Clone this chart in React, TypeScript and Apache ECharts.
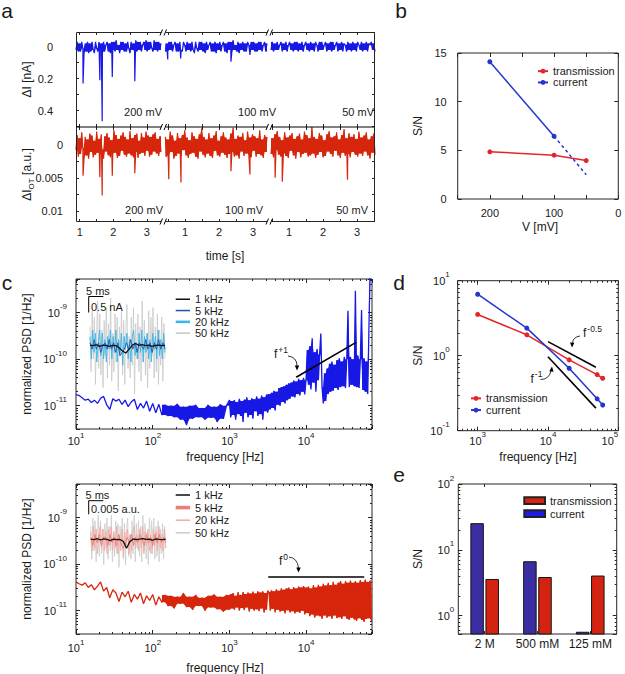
import React, { useEffect, useRef } from 'react';
import * as echarts from 'echarts';

const FONT = '"Liberation Sans", Arial, Helvetica, sans-serif';
const INK = '#1a1a1a';
const FRAME = '#262626';
const BLUE_TRACE = '#1818e6';
const RED_TRACE = '#d6260c';
const RED_PT = '#e3262b';
const BLUE_PT = '#2335cf';

// ================= panel a : time traces =================
const segAxisRanges = [[0.89, 3.48], [0.35, 3.47], [0.41, 3.53]];
const segTraceRanges = [[0.89, 3.42], [0.42, 3.41], [0.47, 3.53]];
const segTicks = [[1, 1.5, 2, 2.5, 3], [0.5, 1, 1.5, 2, 2.5, 3], [0.5, 1, 1.5, 2, 2.5, 3, 3.5]];
const segTickLabels = [1, 2, 3];
const voltLabels = ['200 mV', '100 mV', '50 mV'];
const currentRange = [-0.092, 0.502];
const currentTicks = [0, 0.1, 0.2, 0.3, 0.4, 0.5];
const currentTickLabels = [0, 0.2, 0.4];
const transRange = [-0.0027, 0.0117];
const transTicks = [0, 0.0025, 0.005, 0.0075, 0.01];
const transTickLabels = [0, 0.005, 0.01];

// current noise, units of 0.01 nA (positive = downward deflection)
const currentNoise1 = [2,-3,3,-2,3,-3,1,4,-2,3,-3,4,-2,3,-3,2,4,-3,1,3,-3,2,-2,4,-3,3,-1,-3,3,-2,4,-3,2,-3,3,-4,2,-1,4,-3,2,-3,3,-2,3,-3,1,4,-3,2,-2,3,-4,3,-3,2,-3,3,-1,-3,2,-4,3,-3,2,-3,1,3,-4,2,-3,3,-3,2,-2];
const currentNoise2 = [3,-2,3,-3,2,-3,3,-1,-3,3,-2,3,-3,2,3,-3,-1,3,-3,2,-2,3,-3,2,4,-3,1,3,-3,2,-3,3,-2,4,-3,2,-1,-3,3,-2,3,-3,4,-2,2,-3,3,-1,-3,3,-2,4,-3,2,-3,3,-4,2,-1,3,-3,4,-2,2,-3,3,-2,3,-3,-1,4,-3,2,-3,3,-2,3,-3,2,-3,3,-1,-3,3,-2];
const currentNoise3 = [2,-3,3,-2,2,-3,2,-1,-3,3,-2,2,-3,3,-1,-3,2,-2,3,-3,2,-3,3,-2,2,-3,3,-1,-3,2,-2,3,-3,2,-2,3,-3,-1,3,-3,2,-3,2,-1,-3,3,-2,2,-3,3,-3,2,-1,-3,3,-2,2,-3,3,-2,-1,3,-3,2,-2,3,-3,2,-2,3,-3,-1,2,-3,3,-2,2,-3,3,-2,-1,-3,2,-2,3];
const currentSpikeTimes = [[1.10, 1.60, 1.67, 1.97, 2.64], [0.49, 0.87, 2.35, 2.91], []];
const currentSpikeDepths = [[0.23, 0.21, 0.466, 0.19, 0.216], [0.08, 0.073, 0.094, 0.052], []];

// transmission noise, units of 1e-4 a.u.
const transNoise1 = [8,-15,18,-10,14,-19,5,20,-12,16,-8,21,-17,11,-14,19,-6,15,-20,12,-9,18,-16,7,21,-13,10,-18,16,-11,19,-7,14,-22,12,-15,20,-9,17,-14,9,-19,15,-12,18,-8,13,-21,16,-10,19,-15,11,-17,20,-6,14,-18,12,-11,17,-20,9,-14,18,-12,15,-16,10,-19,13,-9,17,-13,11];
const transNoise2 = [-12,18,-8,15,-20,11,-14,21,-6,17,-18,13,-10,19,-15,8,-22,16,-11,20,-7,14,-19,12,-13,18,-9,21,-16,10,-25,15,-12,19,-8,13,-18,17,-10,20,-14,9,-21,16,-6,18,-13,12,-19,15,-11,20,-8,14,-17,11,-26,18,-9,16,-14,21,-12,10,-18,17,-7,13,-20,15,-11,19,-16,9,-13,18,-10,14,-22,16,-8,20,-15,11,-12];
const transNoise3 = [14,-10,19,-16,8,-21,15,-12,18,-7,13,-19,17,-11,20,-14,9,-18,16,-9,21,-13,11,-17,19,-8,14,-20,12,-15,18,-10,16,-27,13,-12,20,-9,15,-18,11,-14,19,-7,17,-16,10,-21,14,-11,18,-13,9,-19,16,-8,20,-15,12,-24,17,-10,14,-18,19,-12,11,-16,15,-9,18,-20,13,-11,17,-14,10,-19,16,-8,21,-13,12,-17,15];
const transSpikeTimes = [[1.10, 1.60, 1.67, 1.97, 2.64], [0.52, 0.88, 2.35, 2.91], [0.59, 0.80, 2.72]];
const transSpikeDepths = [[0.0047, 0.0049, 0.0077, 0.0047, 0.0043], [0.0052, 0.0057, 0.004, 0.0045], [0.005, 0.0056, 0.0053]];

// ================= panel b =================
const voltages = [200, 100, 50];
const snTransV = [4.85, 4.5, 3.95];
const snCurrentV = [14.1, 6.45];
const snCurrentExtrapV = [6.45, 2.5];

// ================= panel c : PSDs (log10 of PSD in 1/Hz) =================
const psdCurrentLow = [-10.76,-10.78,-10.83,-10.88,-10.86,-10.93,-10.88,-10.95,-10.84,-10.8,-10.98,-11.08,-10.85,-10.9,-10.86,-10.97,-10.88,-11.02,-10.92,-10.86,-11.08,-10.95,-11.05,-10.9,-11.12,-10.95,-11.15,-10.97,-11.2,-10.98,-11.22,-11.0,-11.25,-10.96,-11.3,-11.02,-11.42,-11.0,-11.28,-10.98,-11.25,-11.05,-11.3,-10.98,-11.26,-11.02,-11.35,-10.97,-11.28,-11.0];
const psdCurrentHigh = [-10.88,-11.25,-10.9,-11.2,-10.88,-11.3,-10.92,-11.18,-10.85,-11.22,-10.9,-11.35,-10.87,-11.15,-10.82,-11.25,-10.88,-11.2,-10.84,-11.28,-10.86,-11.12,-10.8,-11.22,-10.85,-11.18,-10.78,-11.3,-10.82,-11.12,-10.76,-11.15,
  -10.75,-11.08,-10.72,-11.05,-10.68,-11.1,-10.7,-10.98,-10.62,-11.0,-10.6,-10.92,-10.58,-10.95,-10.55,-10.88,
  -10.52,-10.85,-10.5,-10.8,-10.46,-10.82,-10.48,-10.75,-10.42,-10.78,-10.45,-10.7,-10.4,-10.76,-10.45,
  -9.8,-10.55,-9.72,-10.65,-9.55,-10.5,-9.85,-10.7,-9.78,-10.45,-9.9,-9.45,
  -10.6,-10.95,-10.3,-10.9,-10.2,
  -10.75,-10.1,-10.7,-10.05,-10.68,-10.12,-10.62,-10.02,-10.66,-9.98,-10.6,-10.05,-10.58,-9.95,-10.62,
  -10.0,-8.96,-10.6,-9.95,-10.55,-10.0,-10.58,-8.53,-10.6,-9.92,-10.62,-10.0,-8.94,-10.66,-9.98,-10.7,-10.05,-10.75,-9.3,-8.0,-7.9];
const psdTransLow = [-10.38,-10.42,-10.45,-10.4,-10.5,-10.44,-10.55,-10.47,-10.38,-10.58,-10.5,-10.72,-10.55,-10.62,-10.8,-10.6,-10.7,-10.58,-10.82,-10.65,-10.75,-10.62,-10.85,-10.68,-10.78,-10.65,-10.88,-10.7,-10.82,-10.66,-10.9,-10.68,-10.95,-10.7,-10.85,-10.62,-10.92,-10.7,-10.98,-10.66,-10.9,-10.72,-11.0,-10.68,-10.93,-10.65,-10.97,-10.7,-11.02,-10.66];
const psdTransHigh = [-10.98,-10.64,-10.95,-10.62,-10.98,-10.68,-10.93,-10.6,-11.0,-10.66,-10.94,-10.6,-10.99,-10.64,-10.93,-10.61,-11.02,-10.63,-10.96,-10.59,-11.0,-10.63,-10.97,-10.58,-11.01,-10.61,-10.95,-10.58,-11.04,-10.62,-10.98,-10.57,
  -10.6,-11.0,-10.56,-10.96,-10.58,-11.04,-10.54,-10.98,-10.57,-11.02,-10.52,-11.0,-10.55,-11.06,-10.52,-10.99,-10.5,-11.04,-10.54,-11.01,-10.49,-11.06,-10.52,-11.02,-10.48,-11.05,-10.5,-11.0,-10.47,-11.08,-10.5,
  -11.05,-10.48,-11.12,-10.52,-11.08,-10.45,-11.15,-10.5,-11.1,-10.44,-11.12,-10.48,-11.18,-10.42,-11.1,-10.46,-11.15,-10.4,-11.12,-10.45,-11.18,-10.38,-11.1,-10.44,-11.16,-10.4,-11.14,-10.36,-11.18,-10.42,-11.12,-10.36,-11.17,-10.4,-11.2,-10.35,-11.15,-10.4,-11.19,-10.36,-11.22,-10.4,-11.16,-10.34,-11.2,-10.38,-11.24,-10.33,-11.18,-10.38,-11.16,-10.35,-11.22];
const guidePlusOneF = [7400, 44700];
const guidePlusOnePsd = [4.1e-11, 2.3e-10];
const guideZeroF = [3200, 57000];
const guideZeroPsd = [5.3e-11, 5.3e-11];

// insets: 23 ms windows. current in 0.1 nA, transmission in 0.001 a.u.
const insetCur50 = [6,-8,11,-4,9,-12,3,14,-7,10,-9,5,-13,8,-3,12,-10,7,-6,15,-11,4,-8,10,-5,9,-14,6,-2,11,-9,8,-12,5,13,-7,3,-10,9,-6,12,-15,7,-4,10,-8,6,-11,14,-5,8,-9,4,-13,11,-7,9,-3,12,-10,6,-8,10,-12,5,-6,9,-11,7,-4];
const insetCur20 = [3,-4,5,-2,4,-5,1,5,-3,4,-4,2,-5,3,-1,5,-4,3,-2,5,-5,2,-3,4,-6,3,-1,4,-4,2,-5,3,5,-3,1,-4,4,-2,5,-5,3,-2,4,-4,2,-5,4,-1,3,-4,5,-3,2,-4,4,-2];
const insetCur5 = [1,-1,2,-1,1,-2,0,1,-1,2,-1,1,-2,1,-3,-2,-1,1,-1,2,-1,1,-2,1,0,-1,2,-1,1,-2,1,-1,2,-1,1,-1];
const insetCur1 = [0.3,0.1,0.4,-0.1,0.3,0.2,-0.1,0.2,0.1,-0.6,-1.6,-2.2,-1.0,0.3,0.8,0.2,0.4,0.1,0.3,-0.1,0.2,0.3,0.1,0.2];
const insetTr50 = [5,-7,8,-4,7,-8,3,9,-6,7,-5,4,-9,6,-3,8,-7,5,-4,9,-8,3,-6,7,-5,6,-10,5,-2,8,-7,6,-9,4,8,-6,2,-7,7,-5,9,-8,6,-3,7,-6,5,-8,9,-4,6,-7,3,-9,8,-5,7,-3,8,-7,5,-6,7,-8,4,-5,6,-7,5,-3];
const insetTr20 = [3,-4,5,-3,4,-5,2,5,-3,4,-4,3,-5,4,-2,5,-4,3,-3,5,-5,2,-4,4,-6,3,-2,4,-5,2,-4,3,5,-3,2,-4,4,-3,5,-5,3,-2,4,-4,2,-5,4,-2,3,-4,5,-3,2,-4,4,-3];
const insetTr5 = [1,-2,2,-1,2,-2,1,1,-2,2,-1,1,-2,2,-1,-3,-2,1,-1,2,-2,1,-1,2,0,-2,2,-1,1,-2,2,-1,2,-1,1,-1];
const insetTr1 = [0.3,0.1,0.5,0,0.4,0.2,-0.2,0.3,0.1,0.2,-0.5,-3,-0.6,0.4,0.1,0.3,0.5,0.2,0.3,-0.1,0.4,0.2,0.1,0.3];
const insetWindowMs = 23;

// ================= panel d =================
const bwFreqs = [1000, 5000, 20000, 50000, 60000];
const snTransF = [3.55, 1.9, 0.88, 0.56, 0.5];
const snCurrentF = [6.6, 2.33, 0.68, 0.266, 0.22];
const guideHalfF = [10000, 48000];
const guideHalfV = [1.54, 0.70];
const guideOneF = [10000, 48000];
const guideOneV = [0.97, 0.2];

// ================= panel e =================
const saltCats = ['2 M', '500 mM', '125 mM'];
const snCurrentSalt = [25, 6.6, 0.56];
const snTransSalt = [3.55, 3.8, 4.0];
const E_MIN = 0.527;

const legendText: Record<string, string> = {
  c1: '1 kHz', c5: '5 kHz', c20: '20 kHz', c50: '50 kHz',
  r1: '1 kHz', r5: '5 kHz', r20: '20 kHz', r50: '50 kHz',
  eT: 'transmission', eC: 'current',
};
const LINE_ICON_THIN = 'path://M0 0H28V3H0Z';
const LINE_ICON_MID = 'path://M0 0H28V5H0Z';
const LINE_ICON_THICK = 'path://M0 0H28V7H0Z';

// ---------------- helpers ----------------
function noisePoints(noise: number[], unit: number, range: number[]) {
  const n = noise.length;
  return noise.map((v, i) => [range[0] + (range[1] - range[0]) * i / (n - 1), v * unit]);
}
function trace(noise: number[], unit: number, range: number[], spikeT: number[], spikeV: number[]) {
  const pts = noisePoints(noise, unit, range);
  spikeT.forEach((t, k) => pts.push([t, spikeV[k]]));
  pts.sort((a, b) => a[0] - b[0]);
  return pts;
}
function psdData(low: number[], high: number[]) {
  const pts: number[][] = [];
  low.forEach((v, i) => pts.push([Math.pow(10, 1 + 1.96 * i / (low.length - 1)), Math.pow(10, v + 12)]));
  high.forEach((v, j) => pts.push([Math.pow(10, 3 + 1.85 * j / (high.length - 1)), Math.pow(10, v + 12)]));
  return pts;
}
// inner band swept by the samples: at each sample the lower of the two neighbouring
// pair-maxima and the higher of the two neighbouring pair-minima
function envelope(pts: number[][], cap = Infinity) {
  const n = pts.length;
  const pm: number[] = [], pn: number[] = [];
  for (let k = 0; k < n - 1; k++) {
    pm.push(Math.max(pts[k][1], pts[k + 1][1]));
    pn.push(Math.min(pts[k][1], pts[k + 1][1]));
  }
  const xs: number[] = [], lo: number[] = [], hi: number[] = [];
  for (let j = 0; j < n; j++) {
    const a = j > 0 ? j - 1 : 0;
    const b = j < n - 1 ? j : n - 2;
    xs.push(pts[j][0]);
    hi.push(Math.min(cap, Math.min(pm[a], pm[b])));
    lo.push(Math.max(pn[a], pn[b]));
  }
  return { xs, lo, hi };
}
function bandSeries(env: any, color: string, xAxisIndex: number, yAxisIndex: number) {
  return {
    type: 'custom', xAxisIndex, yAxisIndex, silent: true, clip: true,
    data: [[env.xs[0], env.lo[0]]],
    renderItem: (params: any, api: any) => {
      const points: number[][] = [];
      for (let i = 0; i < env.xs.length; i++) points.push(api.coord([env.xs[i], env.hi[i]]));
      for (let i = env.xs.length - 1; i >= 0; i--) points.push(api.coord([env.xs[i], env.lo[i]]));
      return { type: 'polygon', shape: { points }, style: { fill: color, stroke: 'none' } };
    },
  };
}
function insetData(vals: number[]) {
  return vals.map((v, i) => [insetWindowMs * i / (vals.length - 1), v]);
}
function minorLog(min: number, max: number) {
  const out: number[] = [];
  for (let n = Math.floor(Math.log10(min)) - 1; n <= Math.ceil(Math.log10(max)); n++) {
    for (let k = 2; k <= 9; k++) {
      const v = Number((k * Math.pow(10, n)).toPrecision(6));
      if (v > min * 1.0001 && v < max * 0.9999) out.push(v);
    }
  }
  return out;
}

const tickLine = { color: FRAME, width: 1 };

function vAxis(grid: number, position: string, min: number, max: number, o: any = {}) {
  return {
    type: 'value', gridIndex: grid, position, min, max, inverse: !!o.inverse, show: o.show !== false,
    axisLine: { show: false, onZero: false },
    splitLine: { show: false }, minorTick: { show: false }, minorSplitLine: { show: false },
    axisTick: o.ticks ? { show: true, inside: true, length: o.tickLen || 4, lineStyle: tickLine, customValues: o.ticks } : { show: false },
    axisLabel: o.labels ? { show: true, customValues: o.labels, formatter: o.formatter, margin: o.margin, color: INK, fontSize: 11, fontFamily: FONT } : { show: false },
  };
}

const powRich = {
  b: { fontSize: 11, lineHeight: 20, verticalAlign: 'middle', fontFamily: FONT, color: INK },
  s: { fontSize: 8, lineHeight: 8, verticalAlign: 'top', fontFamily: FONT, color: INK },
};
function powLabel(offset: number) {
  return (v: number) => {
    const e = Math.log10(v);
    const r = Math.round(e);
    if (Math.abs(e - r) > 1e-6) return '';
    return `{b|10}{s|${r + offset}}`;
  };
}
function lAxis(grid: number, position: string, min: number, max: number, o: any = {}) {
  return {
    type: 'log', logBase: 10, gridIndex: grid, position, min, max,
    axisLine: { show: false, onZero: false }, splitLine: { show: false }, minorTick: { show: false },
    axisTick: { show: true, inside: true, length: 4, lineStyle: tickLine },
    axisLabel: o.labels ? { show: true, formatter: powLabel(o.offset || 0), margin: o.margin, color: INK, fontSize: 11, fontFamily: FONT, rich: powRich, alignMaxLabel: o.alignMax } : { show: false },
  };
}
function minorAxis(grid: number, position: string, min: number, max: number) {
  return vAxis(grid, position, Math.log10(min), Math.log10(max), { ticks: minorLog(min, max).map((v) => Math.log10(v)), tickLen: 2 });
}

function buildOption() {
  const grid: any[] = [];
  const xAxis: any[] = [];
  const yAxis: any[] = [];
  const series: any[] = [];
  const addGrid = (left: number, top: number, width: number, height: number, show: boolean) => {
    grid.push({ left, top, width, height, show, borderColor: FRAME, borderWidth: 1, backgroundColor: 'transparent', containLabel: false, outerBoundsMode: 'none' });
    return grid.length - 1;
  };
  const addX = (o: any) => { xAxis.push(o); return xAxis.length - 1; };
  const addY = (o: any) => { yAxis.push(o); return yAxis.length - 1; };

  // ---------- panel a ----------
  const segX = [[76, 87], [163, 106], [269, 106]];
  const rows = [[32, 95], [127, 95]];
  const curNoise = [currentNoise1, currentNoise2, currentNoise3];
  const trNoise = [transNoise1, transNoise2, transNoise3];
  for (let r = 0; r < 2; r++) {
    for (let s = 0; s < 3; s++) {
      const g = addGrid(segX[s][0], rows[r][0], segX[s][1], rows[r][1], false);
      const [xmin, xmax] = segAxisRanges[s];
      const xi = addX(vAxis(g, 'bottom', xmin, xmax, {
        ticks: segTicks[s], labels: r === 1 ? segTickLabels : undefined, margin: 4, tickLen: 3,
        formatter: (v: number) => String(v),
      }));
      addX(vAxis(g, 'top', xmin, xmax, { ticks: segTicks[s], tickLen: 3 }));
      const yr = r === 0 ? currentRange : transRange;
      const yt = r === 0 ? currentTicks : transTicks;
      const yl = r === 0 ? currentTickLabels : transTickLabels;
      const yi = addY(vAxis(g, 'left', yr[0], yr[1], s === 0 ? {
        inverse: true, ticks: yt, labels: yl, margin: r === 0 ? 23 : 13, tickLen: 3,
        formatter: (v: number) => (Math.abs(v) < 1e-12 ? '0' : String(Number(v.toPrecision(3)))),
      } : { inverse: true, show: false }));
      if (s === 2) addY(vAxis(g, 'right', yr[0], yr[1], { inverse: true, ticks: yt, tickLen: 3 }));
      const color = r === 0 ? BLUE_TRACE : RED_TRACE;
      const noise = r === 0 ? curNoise[s] : trNoise[s];
      const unit = r === 0 ? 0.01 : 0.0001;
      const data = r === 0
        ? trace(noise, unit, segTraceRanges[s], currentSpikeTimes[s], currentSpikeDepths[s])
        : trace(noise, unit, segTraceRanges[s], transSpikeTimes[s], transSpikeDepths[s]);
      series.push(bandSeries(envelope(noisePoints(noise, unit, segTraceRanges[s])), color, xi, yi));
      series.push({
        type: 'line', name: `a${r}${s}`, xAxisIndex: xi, yAxisIndex: yi, data, symbol: 'none', silent: true,
        lineStyle: { color, width: 1.2 },
      });
    }
  }

  // ---------- panel b ----------
  {
    const g = addGrid(457.7, 53, 160.6, 146, true);
    const bt = [0, 50, 100, 150, 200, 250];
    const xi = addX(vAxis(g, 'bottom', 0, 250, { inverse: true, ticks: bt, labels: [0, 100, 200], margin: 8 }));
    addX(vAxis(g, 'top', 0, 250, { inverse: true, ticks: bt }));
    const yi = addY(vAxis(g, 'left', 0, 15, { ticks: [0, 5, 10, 15], labels: [0, 5, 10, 15], margin: 11 }));
    addY(vAxis(g, 'right', 0, 15, { ticks: [0, 5, 10, 15] }));
    series.push({
      type: 'line', name: 'transmission', xAxisIndex: xi, yAxisIndex: yi, symbol: 'circle', symbolSize: 5,
      data: voltages.map((v, i) => [v, snTransV[i]]),
      lineStyle: { color: RED_PT, width: 1.5 }, itemStyle: { color: RED_PT },
    });
    series.push({
      type: 'line', name: 'current', xAxisIndex: xi, yAxisIndex: yi, symbol: 'circle', symbolSize: 5,
      data: snCurrentV.map((v, i) => [voltages[i], v]),
      lineStyle: { color: BLUE_PT, width: 1.5 }, itemStyle: { color: BLUE_PT },
    });
    series.push({
      type: 'line', name: 'current extrapolated', xAxisIndex: xi, yAxisIndex: yi, symbol: 'none',
      data: snCurrentExtrapV.map((v, i) => [voltages[i + 1], v]),
      lineStyle: { color: BLUE_PT, width: 1.5, type: [3, 3] },
    });
  }

  // ---------- log boxes helper ----------
  const logBox = (g: number, xr: number[], yr: number[], xm: number, ym: number, yOffset: number, alignMax?: string) => {
    const xi = addX(lAxis(g, 'bottom', xr[0], xr[1], { labels: true, margin: xm, alignMax }));
    addX(lAxis(g, 'top', xr[0], xr[1]));
    addX(minorAxis(g, 'bottom', xr[0], xr[1]));
    addX(minorAxis(g, 'top', xr[0], xr[1]));
    const yi = addY(lAxis(g, 'left', yr[0], yr[1], { labels: true, margin: ym, offset: yOffset }));
    addY(lAxis(g, 'right', yr[0], yr[1]));
    addY(minorAxis(g, 'left', yr[0], yr[1]));
    addY(minorAxis(g, 'right', yr[0], yr[1]));
    return [xi, yi];
  };
  // PSD y axis in units of 1e-12 1/Hz, labelled in 1/Hz
  const psdX = [10, 72000];
  const psdY = [3.16, 5300];
  const BAND_FROM = 28; // the PSD turns into a dense band above ~130 Hz

  // ---------- panel c (current) ----------
  {
    const g = addGrid(76, 279, 296, 150, true);
    const [xi, yi] = logBox(g, psdX, psdY, 2, 9, -12);
    const pts = psdData(psdCurrentLow, psdCurrentHigh);
    series.push(bandSeries(envelope(pts.slice(BAND_FROM), psdY[1]), BLUE_TRACE, xi, yi));
    series.push({ type: 'line', name: 'psdCurrent', xAxisIndex: xi, yAxisIndex: yi, symbol: 'none', silent: true,
      data: pts, lineStyle: { color: BLUE_TRACE, width: 1.3 } });
    series.push({ type: 'line', name: 'guide+1', xAxisIndex: xi, yAxisIndex: yi, symbol: 'none', silent: true,
      data: guidePlusOneF.map((f, i) => [f, guidePlusOnePsd[i] * 1e12]), lineStyle: { color: '#000', width: 1.6 } });
    const gi = addGrid(90, 294, 75, 104, false);
    const ix = addX(vAxis(gi, 'bottom', 0, insetWindowMs, { show: false }));
    const iy = addY(vAxis(gi, 'left', -16.25, 16.25, { show: false }));
    const ins = [['c50', insetCur50, '#c9c9c9', 0.8], ['c20', insetCur20, '#3db5e8', 0.9], ['c5', insetCur5, '#1f55aa', 0.9], ['c1', insetCur1, '#111111', 1.3]];
    ins.forEach(([name, vals, color, w]: any) => series.push({ type: 'line', name, xAxisIndex: ix, yAxisIndex: iy, symbol: 'none', silent: true,
      data: insetData(vals), lineStyle: { color, width: w }, itemStyle: { color } }));
  }

  // ---------- panel c (transmission) ----------
  {
    const g = addGrid(76, 484, 296, 150, true);
    const [xi, yi] = logBox(g, psdX, psdY, 4, 9, -12);
    const pts = psdData(psdTransLow, psdTransHigh);
    series.push(bandSeries(envelope(pts.slice(BAND_FROM), psdY[1]), RED_TRACE, xi, yi));
    series.push({ type: 'line', name: 'psdTrans', xAxisIndex: xi, yAxisIndex: yi, symbol: 'none', silent: true,
      data: pts, lineStyle: { color: RED_TRACE, width: 1.3 } });
    series.push({ type: 'line', name: 'guide0', xAxisIndex: xi, yAxisIndex: yi, symbol: 'none', silent: true,
      data: guideZeroF.map((f, i) => [f, guideZeroPsd[i] * 1e12]), lineStyle: { color: '#000', width: 1.6 } });
    const gi = addGrid(90.7, 488, 75, 104, false);
    const ix = addX(vAxis(gi, 'bottom', 0, insetWindowMs, { show: false }));
    const iy = addY(vAxis(gi, 'left', -19, 19, { show: false }));
    const ins = [['r50', insetTr50, '#cccccc', 0.8], ['r20', insetTr20, '#f5aaa3', 0.9], ['r5', insetTr5, '#ee7d73', 0.9], ['r1', insetTr1, '#111111', 1.3]];
    ins.forEach(([name, vals, color, w]: any) => series.push({ type: 'line', name, xAxisIndex: ix, yAxisIndex: iy, symbol: 'none', silent: true,
      data: insetData(vals), lineStyle: { color, width: w }, itemStyle: { color } }));
  }

  // ---------- panel d ----------
  {
    const g = addGrid(457.7, 280.7, 160.6, 150, true);
    const [xi, yi] = logBox(g, [520, 100000], [0.1, 10], 0, 8, 0, 'right');
    series.push({ type: 'line', name: 'guideHalf', xAxisIndex: xi, yAxisIndex: yi, symbol: 'none', silent: true,
      data: guideHalfF.map((f, i) => [f, guideHalfV[i]]), lineStyle: { color: '#000', width: 1.6 } });
    series.push({ type: 'line', name: 'guideOne', xAxisIndex: xi, yAxisIndex: yi, symbol: 'none', silent: true,
      data: guideOneF.map((f, i) => [f, guideOneV[i]]), lineStyle: { color: '#000', width: 1.6 } });
    series.push({ type: 'line', name: 'transmission', xAxisIndex: xi, yAxisIndex: yi, symbol: 'circle', symbolSize: 5,
      data: bwFreqs.map((f, i) => [f, snTransF[i]]), lineStyle: { color: RED_PT, width: 1.5 }, itemStyle: { color: RED_PT } });
    series.push({ type: 'line', name: 'current', xAxisIndex: xi, yAxisIndex: yi, symbol: 'circle', symbolSize: 5,
      data: bwFreqs.map((f, i) => [f, snCurrentF[i]]), lineStyle: { color: BLUE_PT, width: 1.5 }, itemStyle: { color: BLUE_PT } });
  }

  // ---------- panel e ----------
  {
    const g = addGrid(458.3, 484, 158.4, 150, true);
    const catAxis = (pos: string, labels: boolean) => ({
      type: 'category', gridIndex: g, position: pos, data: saltCats, boundaryGap: true,
      axisLine: { show: false, onZero: false }, splitLine: { show: false },
      axisTick: { show: true, inside: true, length: 3, alignWithLabel: true, lineStyle: tickLine },
      axisLabel: labels ? { show: true, interval: 0, hideOverlap: false, margin: 4, fontSize: 12, color: INK, fontFamily: FONT } : { show: false },
    });
    const xi = addX(catAxis('bottom', true));
    addX(catAxis('top', false));
    const yi = addY(lAxis(g, 'left', E_MIN, 100, { labels: true, margin: 4 }));
    addY(lAxis(g, 'right', E_MIN, 100));
    addY(minorAxis(g, 'left', E_MIN, 100));
    addY(minorAxis(g, 'right', E_MIN, 100));
    const barSeries = (name: string, vals: number[], color: string, offset: number) => ({
      type: 'custom', name, xAxisIndex: xi, yAxisIndex: yi,
      data: vals.map((v, i) => [i, v]),
      itemStyle: { color, borderColor: '#222', borderWidth: 1 },
      renderItem: (params: any, api: any) => {
        const top = api.coord([api.value(0), api.value(1)]);
        const base = api.coord([api.value(0), E_MIN]);
        const w = 12.5;
        return {
          type: 'rect',
          shape: { x: top[0] + offset - w / 2, y: top[1], width: w, height: Math.max(0.5, base[1] - top[1]) },
          style: { fill: color, stroke: '#151515', lineWidth: 1 },
        };
      },
    });
    series.push(barSeries('eC', snCurrentSalt, '#3b2ea3', -7.6));
    series.push(barSeries('eT', snTransSalt, '#d42310', 7.5));
  }

  const legendBase = { orient: 'vertical', padding: 0, itemGap: 0, selectedMode: false };
  const legend = [
    { ...legendBase, left: 537, top: 65.5, itemWidth: 10, itemHeight: 6, data: ['transmission', 'current'],
      textStyle: { color: INK, fontSize: 11, fontFamily: FONT, lineHeight: 11.3 } },
    { ...legendBase, left: 470, top: 392.5, itemWidth: 10, itemHeight: 6, data: ['transmission', 'current'],
      textStyle: { color: INK, fontSize: 11, fontFamily: FONT, lineHeight: 11.7 } },
    { ...legendBase, left: 175.7, top: 293.6, itemWidth: 14.3, itemHeight: 8, symbolKeepAspect: true, formatter: (n: string) => legendText[n],
      data: [{ name: 'c1', icon: LINE_ICON_THIN }, { name: 'c5', icon: LINE_ICON_THIN }, { name: 'c20', icon: LINE_ICON_MID }, { name: 'c50', icon: LINE_ICON_THIN }],
      textStyle: { color: INK, fontSize: 11, fontFamily: FONT, lineHeight: 11.3 } },
    { ...legendBase, left: 175.7, top: 488.7, itemWidth: 14.3, itemHeight: 8, symbolKeepAspect: true, formatter: (n: string) => legendText[n],
      data: [{ name: 'r1', icon: LINE_ICON_THIN }, { name: 'r5', icon: LINE_ICON_THICK }, { name: 'r20', icon: LINE_ICON_THIN }, { name: 'r50', icon: LINE_ICON_THIN }],
      textStyle: { color: INK, fontSize: 11, fontFamily: FONT, lineHeight: 12.6 } },
    { ...legendBase, left: 523.3, top: 494.2, itemWidth: 20.7, itemHeight: 6.7, icon: 'rect', formatter: (n: string) => legendText[n],
      data: [{ name: 'eT' }, { name: 'eC', itemStyle: { color: '#1c1ce6' } }],
      textStyle: { color: INK, fontSize: 11, fontFamily: FONT, lineHeight: 13 } },
  ];

  // ---------- graphics ----------
  const g: any[] = [];
  const txt = (x: number, y: number, text: string, o: any = {}) => g.push({
    type: 'text', x, y, z: 30, silent: true, rotation: o.rot || 0,
    style: { text, fill: INK, fontSize: o.size || 11, fontFamily: FONT, align: o.align || 'left', verticalAlign: o.va || 'middle', rich: o.rich },
  });
  const line = (x1: number, y1: number, x2: number, y2: number, w = 1, z = 31) => g.push({
    type: 'line', z, silent: true, shape: { x1, y1, x2, y2 }, style: { stroke: '#000', lineWidth: w },
  });
  // panel letters
  txt(7, 10.5, 'a', { size: 21, align: 'center' });
  txt(401, 10.5, 'b', { size: 21, align: 'center' });
  txt(7, 282.6, 'c', { size: 21, align: 'center' });
  txt(399, 282.6, 'd', { size: 21, align: 'center' });
  txt(399, 474.6, 'e', { size: 21, align: 'center' });

  // panel a frame + breaks
  g.push({ type: 'rect', z: 25, silent: true, shape: { x: 76.5, y: 32.5, width: 298, height: 189 }, style: { fill: 'none', stroke: FRAME, lineWidth: 1 } });
  line(76.5, 127, 374.5, 127, 1, 25);
  [163.5, 269.5].forEach((bx) => {
    [32.5, 127, 221.5].forEach((by) => {
      g.push({ type: 'rect', z: 28, silent: true, shape: { x: bx - 2.5, y: by - 2, width: 5, height: 4 }, style: { fill: '#fff', stroke: 'none' } });
      line(bx - 3.5, by + 3, bx - 1, by - 3);
      line(bx + 0.5, by + 3, bx + 3, by - 3);
    });
  });
  // voltage labels
  const topLblRight = [162, 276, 374];
  const botLblRight = [163, 263, 368];
  voltLabels.forEach((t, i) => {
    txt(topLblRight[i], 112.3, t, { align: 'right' });
    txt(botLblRight[i], 210, t, { align: 'right' });
  });

  // axis titles
  const subRich = {
    m: { fontSize: 12, fontFamily: FONT, fill: INK, lineHeight: 16 },
    sub: { fontSize: 8, fontFamily: FONT, fill: INK, lineHeight: 8, verticalAlign: 'bottom' },
  };
  txt(27, 79.5, 'ΔI [nA]', { size: 12, align: 'center', rot: Math.PI / 2 });
  txt(27, 174.5, '{m|ΔI}{sub|OT}{m| [a.u.]}', { size: 12, align: 'center', rot: Math.PI / 2, rich: subRich });
  txt(225, 256, 'time [s]', { size: 12, align: 'center' });
  txt(418, 126, 'S/N', { size: 12, align: 'center', rot: Math.PI / 2 });
  txt(540, 226.5, 'V [mV]', { size: 12, align: 'center' });
  txt(27, 354, 'normalized PSD [1/Hz]', { size: 12, align: 'center', rot: Math.PI / 2 });
  txt(225, 457, 'frequency [Hz]', { size: 12, align: 'center' });
  txt(27, 559, 'normalized PSD [1/Hz]', { size: 12, align: 'center', rot: Math.PI / 2 });
  txt(225, 668, 'frequency [Hz]', { size: 12, align: 'center' });
  txt(418, 355.7, 'S/N', { size: 12, align: 'center', rot: Math.PI / 2 });
  txt(538, 457, 'frequency [Hz]', { size: 12, align: 'center' });
  txt(418, 559, 'S/N', { size: 12, align: 'center', rot: Math.PI / 2 });

  // inset scale bars
  txt(86, 290.5, '5 ms');
  g.push({ type: 'polyline', z: 31, silent: true, shape: { points: [[103.3, 296.5], [88.7, 296.5], [88.7, 312.5]] }, style: { stroke: '#000', lineWidth: 1, fill: 'none' } });
  txt(91, 307, '0.5 nA');
  txt(85.5, 494.7, '5 ms');
  g.push({ type: 'polyline', z: 31, silent: true, shape: { points: [[103.3, 500.7], [88.7, 500.7], [88.7, 514.3]] }, style: { stroke: '#000', lineWidth: 1, fill: 'none' } });
  txt(91, 508.7, '0.005 a.u.');

  // power-law annotations
  const supRich = {
    f: { fontSize: 12, fontFamily: FONT, fill: INK, lineHeight: 18 },
    s: { fontSize: 8.5, fontFamily: FONT, fill: INK, lineHeight: 8, verticalAlign: 'top', padding: [0, 0, 0, 1] },
  };
  const arrow = (x1: number, y1: number, cx: number, cy: number, x2: number, y2: number, head: number[][]) => {
    g.push({ type: 'bezierCurve', z: 31, silent: true, shape: { x1, y1, cpx1: cx, cpy1: cy, x2, y2 }, style: { stroke: '#000', lineWidth: 0.8, fill: 'none' } });
    g.push({ type: 'polygon', z: 31, silent: true, shape: { points: head }, style: { fill: '#000', stroke: 'none' } });
  };
  txt(274, 354, '{f|f}{s|+1}', { rich: supRich });
  arrow(288, 356, 297, 357, 297, 366, [[297, 370.5], [294.8, 365.5], [299.2, 365.5]]);
  txt(279, 561, '{f|f}{s|0}', { rich: supRich });
  arrow(289, 557, 297.5, 558, 298.5, 568, [[298.5, 572.5], [296.3, 567.5], [300.7, 567.5]]);
  txt(583, 333, '{f|f}{s|-0.5}', { rich: supRich });
  arrow(580, 336, 573, 337, 572.5, 343, [[572, 347.5], [570, 342.5], [574.4, 342.8]]);
  txt(530.5, 378.5, '{f|f}{s|-1}', { rich: supRich });
  arrow(540.5, 379.5, 549, 379.5, 551, 371, [[552, 366.5], [549.3, 371.2], [553.6, 371.8]]);

  return { animation: false, backgroundColor: '#fff', grid, xAxis, yAxis, series, legend, graphic: g };
}

export default function App() {
  const ref = useRef<HTMLDivElement>(null);
  useEffect(() => {
    const chart = echarts.init(ref.current as HTMLDivElement, null, { renderer: 'svg' });
    chart.setOption(buildOption() as any);
    return () => chart.dispose();
  }, []);
  return <div ref={ref} style={{ position: 'absolute', left: 0, top: 0, width: 625, height: 674, background: '#fff' }} />;
}
